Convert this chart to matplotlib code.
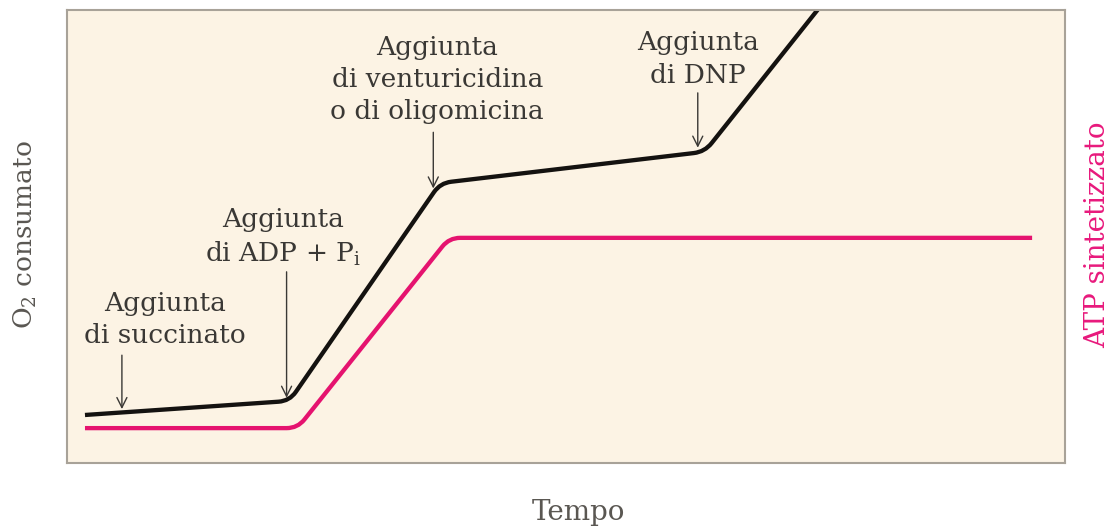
#!/usr/bin/env python3
"""O2 consumed vs ATP synthesised, with the additions marked by arrows."""

import math
import matplotlib
matplotlib.use("Agg")
import matplotlib.pyplot as plt
from matplotlib.path import Path
from matplotlib.patches import PathPatch

# time / level values (0..100 on both axes)
o2_time = [1.8, 22.3, 37.4, 63.9, 77.0]
o2_level = [10.6, 13.7, 61.8, 68.7, 105.0]

atp_time = [1.8, 23.1, 38.3, 96.7]
atp_level = [7.7, 7.7, 49.7, 49.7]

# annotations: text, text centre (x, y), arrow tail y, arrow tip y
notes = [
    ("Aggiunta\ndi succinato", 9.8, 31.6, 23.8, 11.9),
    ("Aggiunta\ndi ADP + P$_\\mathrm{i}$", 21.6, 49.8, 42.2, 14.4),
    ("Aggiunta\ndi venturicidina\no di oligomicina", 37.1, 84.6, 73.0, 60.6),
    ("Aggiunta\ndi DNP", 63.2, 89.2, 81.7, 69.6),
]
arrow_x = [5.5, 22.0, 36.7, 63.2]

INK = "#3a3835"
PINK = "#e5136f"
BG = "#fcf3e4"

# rough pixel size of one data unit, used only to keep the corner radius even
SX, SY = 9.98, 4.53


def rounded(xs, ys, r=11.0):
    """Path through the vertices with the corners softened."""
    verts = [(xs[0], ys[0])]
    codes = [Path.MOVETO]
    for i in range(1, len(xs) - 1):
        cx, cy = xs[i], ys[i]
        pts = []
        for j in (i - 1, i + 1):
            dx, dy = (xs[j] - cx) * SX, (ys[j] - cy) * SY
            d = math.hypot(dx, dy)
            f = min(r / d, 0.45)
            pts.append((cx + f * (xs[j] - cx), cy + f * (ys[j] - cy)))
        verts += [pts[0], (cx, cy), pts[1]]
        codes += [Path.LINETO, Path.CURVE3, Path.CURVE3]
    verts.append((xs[-1], ys[-1]))
    codes.append(Path.LINETO)
    return Path(verts, codes)


plt.rcParams["font.family"] = ["DejaVu Serif"]
plt.rcParams["mathtext.fontset"] = "dejavuserif"

fig = plt.figure(figsize=(11.15, 5.28), dpi=100)
ax = fig.add_axes([0.0601, 0.1231, 0.8951, 0.858])
ax.set_facecolor(BG)
ax.set_xlim(0, 100)
ax.set_ylim(0, 100)
ax.set_xticks([])
ax.set_yticks([])
for s in ax.spines.values():
    s.set_color("#a8a298")
    s.set_linewidth(1.5)

ax.add_patch(PathPatch(rounded(atp_time, atp_level), fill=False,
                       edgecolor=PINK, lw=3.1, capstyle="butt", joinstyle="round"))
ax.add_patch(PathPatch(rounded(o2_time, o2_level), fill=False,
                       edgecolor="#141210", lw=3.1, capstyle="butt", joinstyle="round"))

for (label, tx, ty, tail, tip), ax_x in zip(notes, arrow_x):
    ax.text(tx, ty, label, ha="center", va="center", fontsize=19, color=INK,
            linespacing=1.36)
    ax.annotate("", xy=(ax_x, tip), xytext=(ax_x, tail),
                arrowprops=dict(arrowstyle="->", color=INK, lw=1.0,
                                mutation_scale=18, shrinkA=0, shrinkB=0))

fig.text(25 / 1115, 1 - 235 / 528, "O$_2$ consumato", rotation=90,
         ha="center", va="center", fontsize=19, color="#5a5752")
fig.text(1098 / 1115, 1 - 235 / 528, "ATP sintetizzato", rotation=90,
         ha="center", va="center", fontsize=20, color="#e8197c")
fig.text(578 / 1115, 1 - 513 / 528, "Tempo", ha="center", va="center",
         fontsize=20, color="#5a5752")

fig.savefig("out.png", dpi=100)
